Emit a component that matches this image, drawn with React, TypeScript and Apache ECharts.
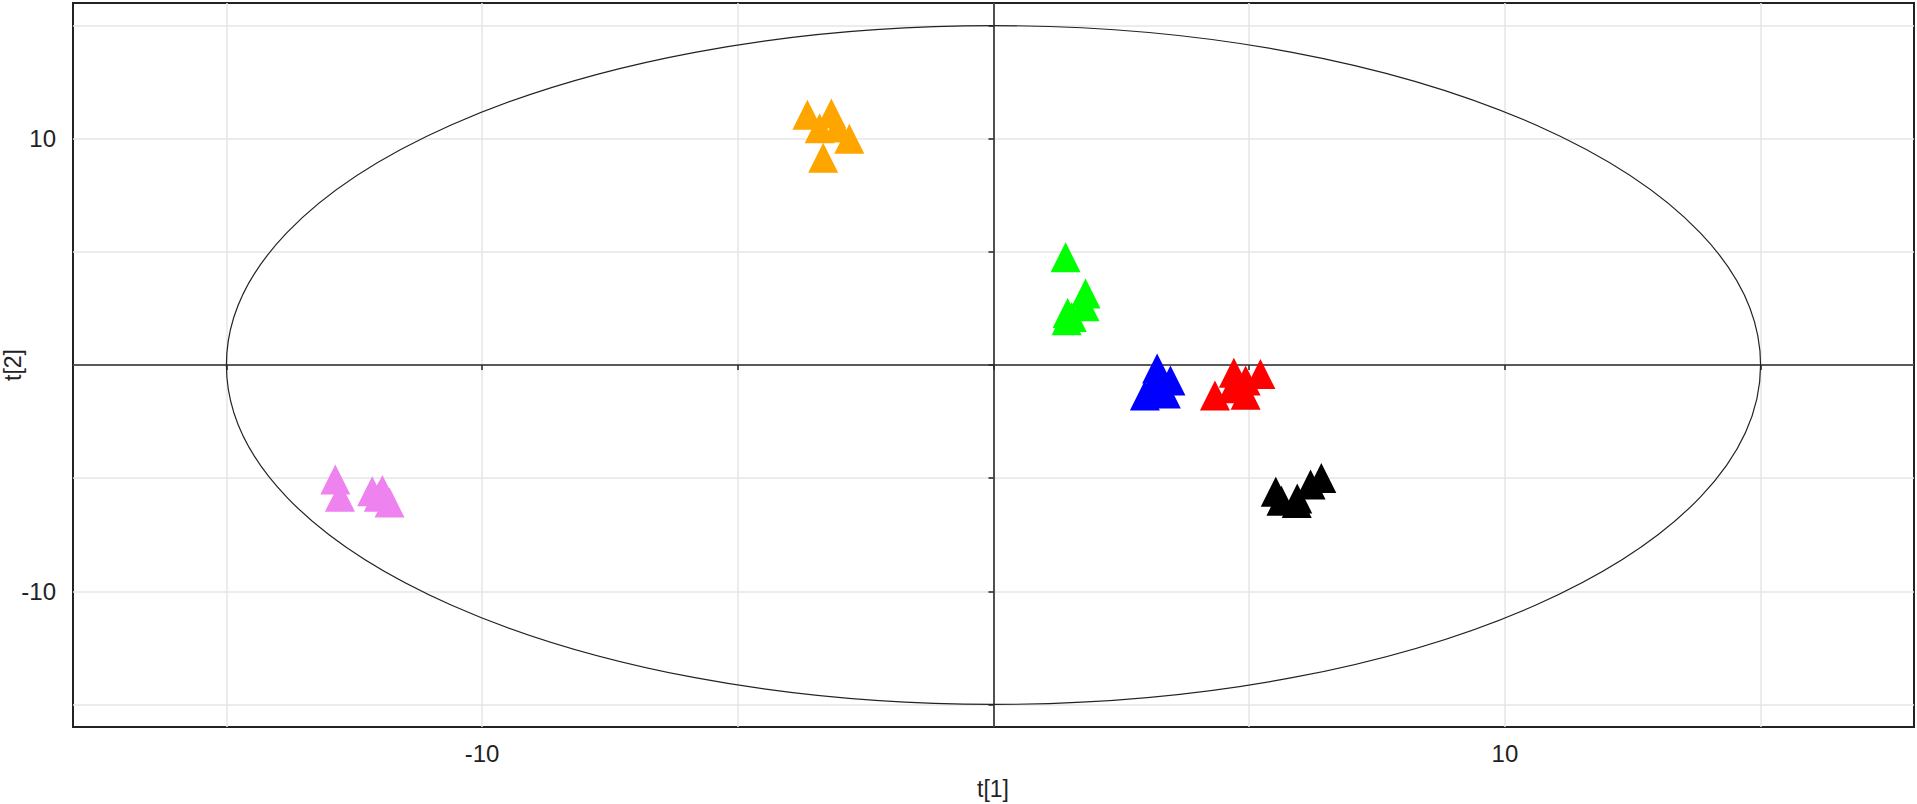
import { useEffect, useRef } from "react";
import * as echarts from "echarts";

// Axis ticks / labels
const xTicks = [-15, -10, -5, 0, 5, 10, 15];
const yTicks = [-15, -10, -5, 0, 5, 10, 15];
const xLabelValues = [-10, 10];
const yLabelValues = [-10, 10];
const xRange = [-18, 18];
const yRange = [-16, 16];
const xName = "t[1]";
const yName = "t[2]";

// Hotelling T2 ellipse: centre and semi-axes (data units)
const ellipse = [0, 0, 15, 15];

// Score groups: [t[1], t[2]]
const orangePts = [
  [-3.64, 11.06],
  [-3.17, 11.12],
  [-3.4, 10.46],
  [-3.05, 10.5],
  [-2.82, 10.0],
  [-3.33, 9.16],
];
const greenPts = [
  [1.41, 4.76],
  [1.8, 3.16],
  [1.78, 2.6],
  [1.45, 2.3],
  [1.43, 1.98],
  [1.53, 2.12],
];
const bluePts = [
  [3.2, -0.15],
  [3.46, -0.69],
  [3.23, -0.97],
  [3.37, -1.26],
  [2.96, -1.35],
  [3.08, -1.1],
];
const redPts = [
  [4.7, -0.34],
  [5.22, -0.4],
  [4.93, -0.69],
  [4.67, -1.03],
  [4.33, -1.35],
  [4.93, -1.32],
];
const blackPts = [
  [5.52, -5.6],
  [5.63, -6.0],
  [5.93, -6.1],
  [5.94, -5.9],
  [6.2, -5.28],
  [6.41, -4.99],
];
const pinkPts = [
  [-12.87, -5.06],
  [-12.78, -5.82],
  [-12.15, -5.58],
  [-11.95, -5.52],
  [-12.02, -5.82],
  [-11.81, -6.08],
];

const groups = [
  { name: "orange", color: "#FFA500", data: orangePts },
  { name: "green", color: "#00FF00", data: greenPts },
  { name: "blue", color: "#0000FF", data: bluePts },
  { name: "red", color: "#FF0000", data: redPts },
  { name: "black", color: "#000000", data: blackPts },
  { name: "violet", color: "#EE82EE", data: pinkPts },
];

const FONT = "'Liberation Sans', Arial, sans-serif";

export default function App() {
  const ref = useRef<HTMLDivElement>(null);

  useEffect(() => {
    document.body.style.margin = "0";
    if (!ref.current) return;
    const chart = echarts.init(ref.current, undefined, { renderer: "svg" });

    const tickStyle = {
      show: true,
      length: 5,
      inside: false,
      lineStyle: { color: "#222", width: 1.5 },
    };

    const axisCommon = {
      type: "value",
      axisLine: { show: false },
      splitLine: {
        show: true,
        lineStyle: { color: "#e6e6e6", width: 1.5 },
      },
    };

    chart.setOption({
      animation: false,
      backgroundColor: "#ffffff",
      grid: {
        left: 73,
        top: 3,
        width: 1841,
        height: 724,
        containLabel: false,
        outerBoundsMode: "none",
        show: true,
        borderColor: "#222",
        borderWidth: 2,
        backgroundColor: "transparent",
      },
      graphic: [
        {
          type: "text",
          x: 993,
          y: 789,
          style: {
            text: xName,
            fontFamily: FONT,
            fontSize: 23,
            fill: "#222",
            align: "center",
            verticalAlign: "middle",
          },
        },
        {
          type: "text",
          x: 13,
          y: 365,
          rotation: Math.PI / 2,
          style: {
            text: yName,
            fontFamily: FONT,
            fontSize: 23,
            fill: "#222",
            align: "center",
            verticalAlign: "middle",
          },
        },
      ],
      xAxis: {
        ...axisCommon,
        min: xRange[0],
        max: xRange[1],
        splitNumber: 7,
        axisTick: { ...tickStyle, customValues: xTicks },
        axisLabel: {
          customValues: xLabelValues,
          fontFamily: FONT,
          fontSize: 24,
          color: "#222",
          margin: 14,
        },
      },
      yAxis: {
        ...axisCommon,
        min: yRange[0],
        max: yRange[1],
        splitNumber: 7,
        axisTick: { ...tickStyle, customValues: yTicks },
        axisLabel: {
          customValues: yLabelValues,
          fontFamily: FONT,
          fontSize: 24,
          color: "#222",
          margin: 17,
        },
      },
      series: [
        {
          type: "custom",
          name: "ellipse",
          silent: true,
          z: 3,
          data: [ellipse],
          encode: { x: 0, y: 1 },
          renderItem: (_params: any, api: any) => {
            const c = api.coord([api.value(0), api.value(1)]);
            const s = api.size([api.value(2), api.value(3)]);
            return {
              type: "ellipse",
              shape: { cx: c[0], cy: c[1], rx: s[0], ry: s[1] },
              style: { fill: "none", stroke: "#222", lineWidth: 1.2 },
            };
          },
          markLine: {
            silent: true,
            symbol: ["none", "none"],
            label: { show: false },
            lineStyle: { color: "#2a2a2a", width: 1.6, type: "solid" },
            data: [{ xAxis: 0 }, { yAxis: 0 }],
          },
        },
        ...groups.map((g) => ({
          type: "scatter",
          name: g.name,
          z: 5,
          symbol: "triangle",
          symbolSize: 30,
          itemStyle: { color: g.color, opacity: 1 },
          data: g.data,
        })),
      ],
    });

    return () => chart.dispose();
  }, []);

  return <div ref={ref} style={{ width: 1917, height: 804 }} />;
}
